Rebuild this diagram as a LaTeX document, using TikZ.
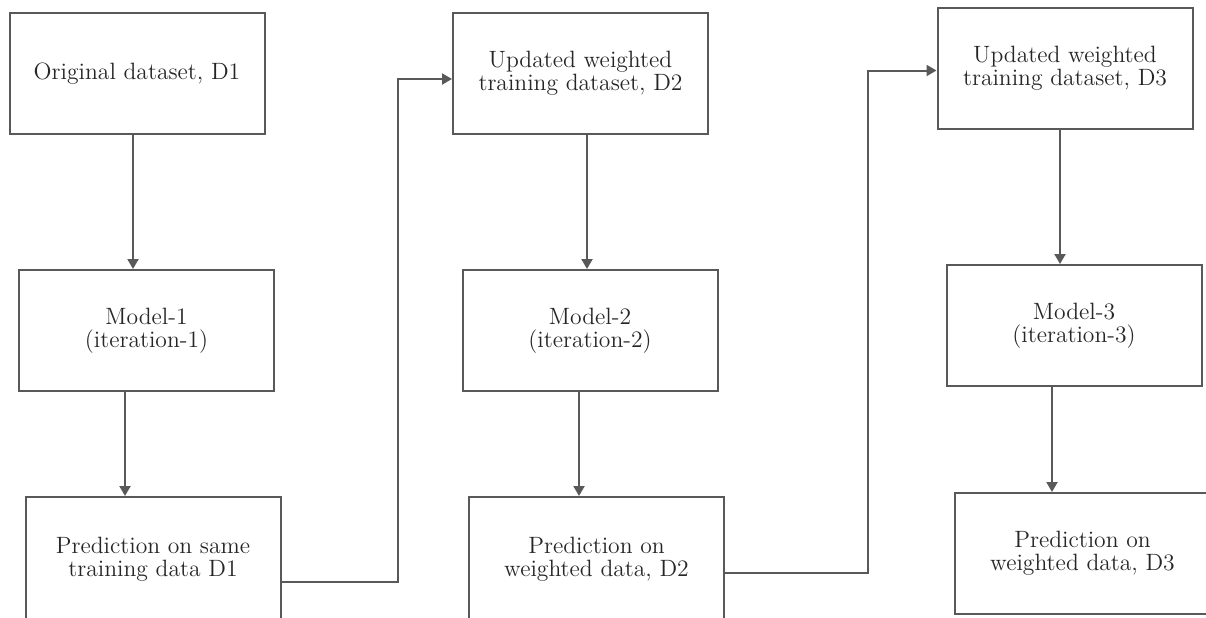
\documentclass[tikz,border=0pt]{standalone}
\usepackage{tikz}
\usetikzlibrary{arrows,arrows.meta}

\begin{document}
\begin{tikzpicture}[x=0.5pt,y=-0.5pt,>={Triangle[length=5pt,width=5.5pt]},
    box/.style={draw=black!65, line width=1pt, text=black!85, align=center,
      inner sep=0pt, minimum width=127.5pt, minimum height=60.5pt,
      font=\fontsize{11.8}{11.5}\selectfont},
    cutbox/.style={box, minimum height=62.5pt},
    link/.style={draw=black!65, line width=1pt}]
    \useasboundingbox (0,0) rectangle (1206,617);
    \clip (0,0) rectangle (1206,617);
    \node [box] (1) at (137,73.5) {Original dataset, D1};
    \node [box] (2) at (146.5,330.5) {Model-1\\(iteration-1)};
    \node [cutbox] (3) at (153,559.5) {Prediction on same\\training data D1};
    \node [box] (4) at (580.5,73.5) {Updated weighted\\training dataset, D2};
    \node [box] (5) at (590,330.5) {Model-2\\(iteration-2)};
    \node [cutbox] (6) at (596.5,559.5) {Prediction on\\weighted data, D2};
    \node [box] (7) at (1065,68.5) {Updated weighted\\training dataset, D3};
    \node [box] (8) at (1074,325.5) {Model-3\\(iteration-3)};
    \node [box] (9) at (1082.5,553.5) {Prediction on\\weighted data, D3};
    \draw [link,->] ([xshift=-2pt]1.south) -- ([xshift=-2pt]1.south |- 2.north);
    \draw [link,->] ([xshift=-10.75pt]2.south) -- ([xshift=-10.75pt]2.south |- 3.north);
    \draw [link,->] ([yshift=-11.25pt]3.east) -- ++(58pt,0) |- ([yshift=-2.75pt]4.west);
    \draw [link,->] ([xshift=3.25pt]4.south) -- ([xshift=3.25pt]4.south |- 5.north);
    \draw [link,->] ([xshift=-5.5pt]5.south) -- ([xshift=-5.5pt]5.south |- 6.north);
    \draw [link,->] ([yshift=-6.75pt]6.east) -- ++(71.5pt,0) |- ([yshift=-1pt]7.west);
    \draw [link,->] ([xshift=-2.5pt]7.south) -- ([xshift=-2.5pt]7.south |- 8.north);
    \draw [link,->] ([xshift=-11pt]8.south) -- ([xshift=-11pt]8.south |- 9.north);
  \end{tikzpicture}
\end{document}
